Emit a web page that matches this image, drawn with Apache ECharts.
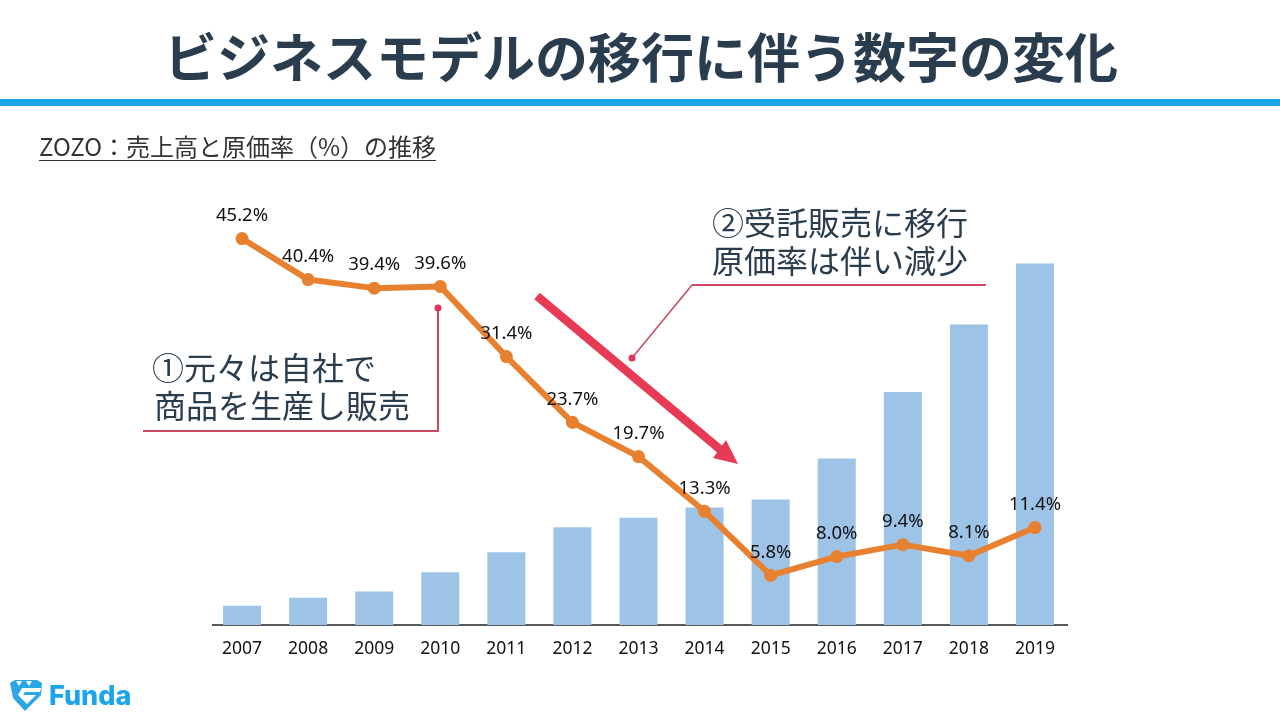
<!DOCTYPE html>
<html><head><meta charset="utf-8">
<style>html,body{margin:0;padding:0;background:#fff}#c{width:1280px;height:720px}</style>
<script src="https://cdn.jsdelivr.net/npm/echarts@6/dist/echarts.min.js"></script>
</head><body><div id="c"></div>
<script>
const years = ['2007','2008','2009','2010','2011','2012','2013','2014','2015','2016','2017','2018','2019'];
const sales = [63,89,110,173,238,320,351,385,411,545,763,984,1184];
const costRate = [45.2,40.4,39.4,39.6,31.4,23.7,19.7,13.3,5.8,8.0,9.4,8.1,11.4];
const cjk = '"Noto Sans CJK JP"';
const dark = '#2A3D4E', red = '#C9475F', redDot = '#E0355A', blue = '#1DA5EC';
const txt = (x,y,text,size,extra={}) => ({type:'text',x,y,silent:true,style:Object.assign({text,fontSize:size,fontFamily:cjk,fill:dark,textVerticalAlign:'middle'},extra)});
const ln = (x1,y1,x2,y2,stroke,w) => ({type:'line',silent:true,shape:{x1,y1,x2,y2},style:{stroke,lineWidth:w}});
const dot = (cx,cy,r,fill) => ({type:'circle',silent:true,shape:{cx,cy,r},style:{fill}});
const poly = (points,fill) => ({type:'polygon',silent:true,shape:{points},style:{fill}});
const chart = echarts.init(document.getElementById('c'),null,{renderer:'canvas'});
chart.setOption({
  animation:false,
  backgroundColor:'#fff',
  grid:{left:209,top:197.5,width:859,height:427.5,containLabel:false},
  xAxis:{type:'category',data:years,axisTick:{show:false},
    axisLine:{show:false},
    axisLabel:{color:'#111',fontSize:17.5,margin:15,fontFamily:'"Noto Sans"'}},
  yAxis:[
    {type:'value',min:0,max:1400,show:false,splitLine:{show:false}},
    {type:'value',min:0,max:50,show:false,splitLine:{show:false}}
  ],
  series:[
    {type:'bar',name:'売上高',data:sales,yAxisIndex:0,barWidth:38,itemStyle:{color:'#9DC3E6'}},
    {type:'line',name:'原価率',data:costRate,yAxisIndex:1,symbol:'circle',symbolSize:13,z:5,
      lineStyle:{color:'#E8812F',width:6},itemStyle:{color:'#E8812F'},
      label:{show:true,position:'top',distance:7,color:'#111',fontSize:18.5,fontFamily:'"Noto Sans"',formatter:p=>p.value.toFixed(1)+'%'}}
  ],
  graphic:{elements:[
    txt(641,58,'ビジネスモデルの移行に伴う数字の変化',53,{fontWeight:700,textAlign:'center'}),
    {type:'rect',silent:true,shape:{x:0,y:99,width:1280,height:7},style:{fill:blue}},
    txt(39,147,'ZOZO：売上高と原価率（%）の推移',24,{fill:'#333'}),
    ln(39,160.5,436,160.5,'#333',1),
    ln(212,625,1068,625,'#222',1.5),
    txt(152,368,'①元々は自社で',32),
    txt(154,406,'商品を生産し販売',32),
    ln(143,431,439,431,red,2),
    ln(438,431,438,308,red,2),
    dot(438,308,3.5,redDot),
    txt(712,223,'②受託販売に移行',32),
    txt(712,261,'原価率は伴い減少',32),
    ln(692,285,986,285,red,2),
    ln(692,285,632,358,red,1.5),
    dot(632,358,3.5,redDot),
    ln(537,296,722,451,'#E63A55',8.5),
    poly([[738,464],[713,458],[726,440]],'#E63A55'),
    poly([[10,683],[15,680],[37,680],[42,683],[41,695],[25,711],[13,698]],'#2BA8E4'),
    poly([[22,688],[41,688],[40,692],[25,692],[23,695],[36,695],[27,704],[18,695]],'#fff'),
    poly([[16,681],[22,681],[19,686]],'#fff'),
    poly([[26,681],[32,681],[29,686]],'#fff'),
    txt(49,697,'Funda',27,{fontFamily:'"Inter"',fontWeight:800,fill:blue})
  ]}
});
</script></body></html>
